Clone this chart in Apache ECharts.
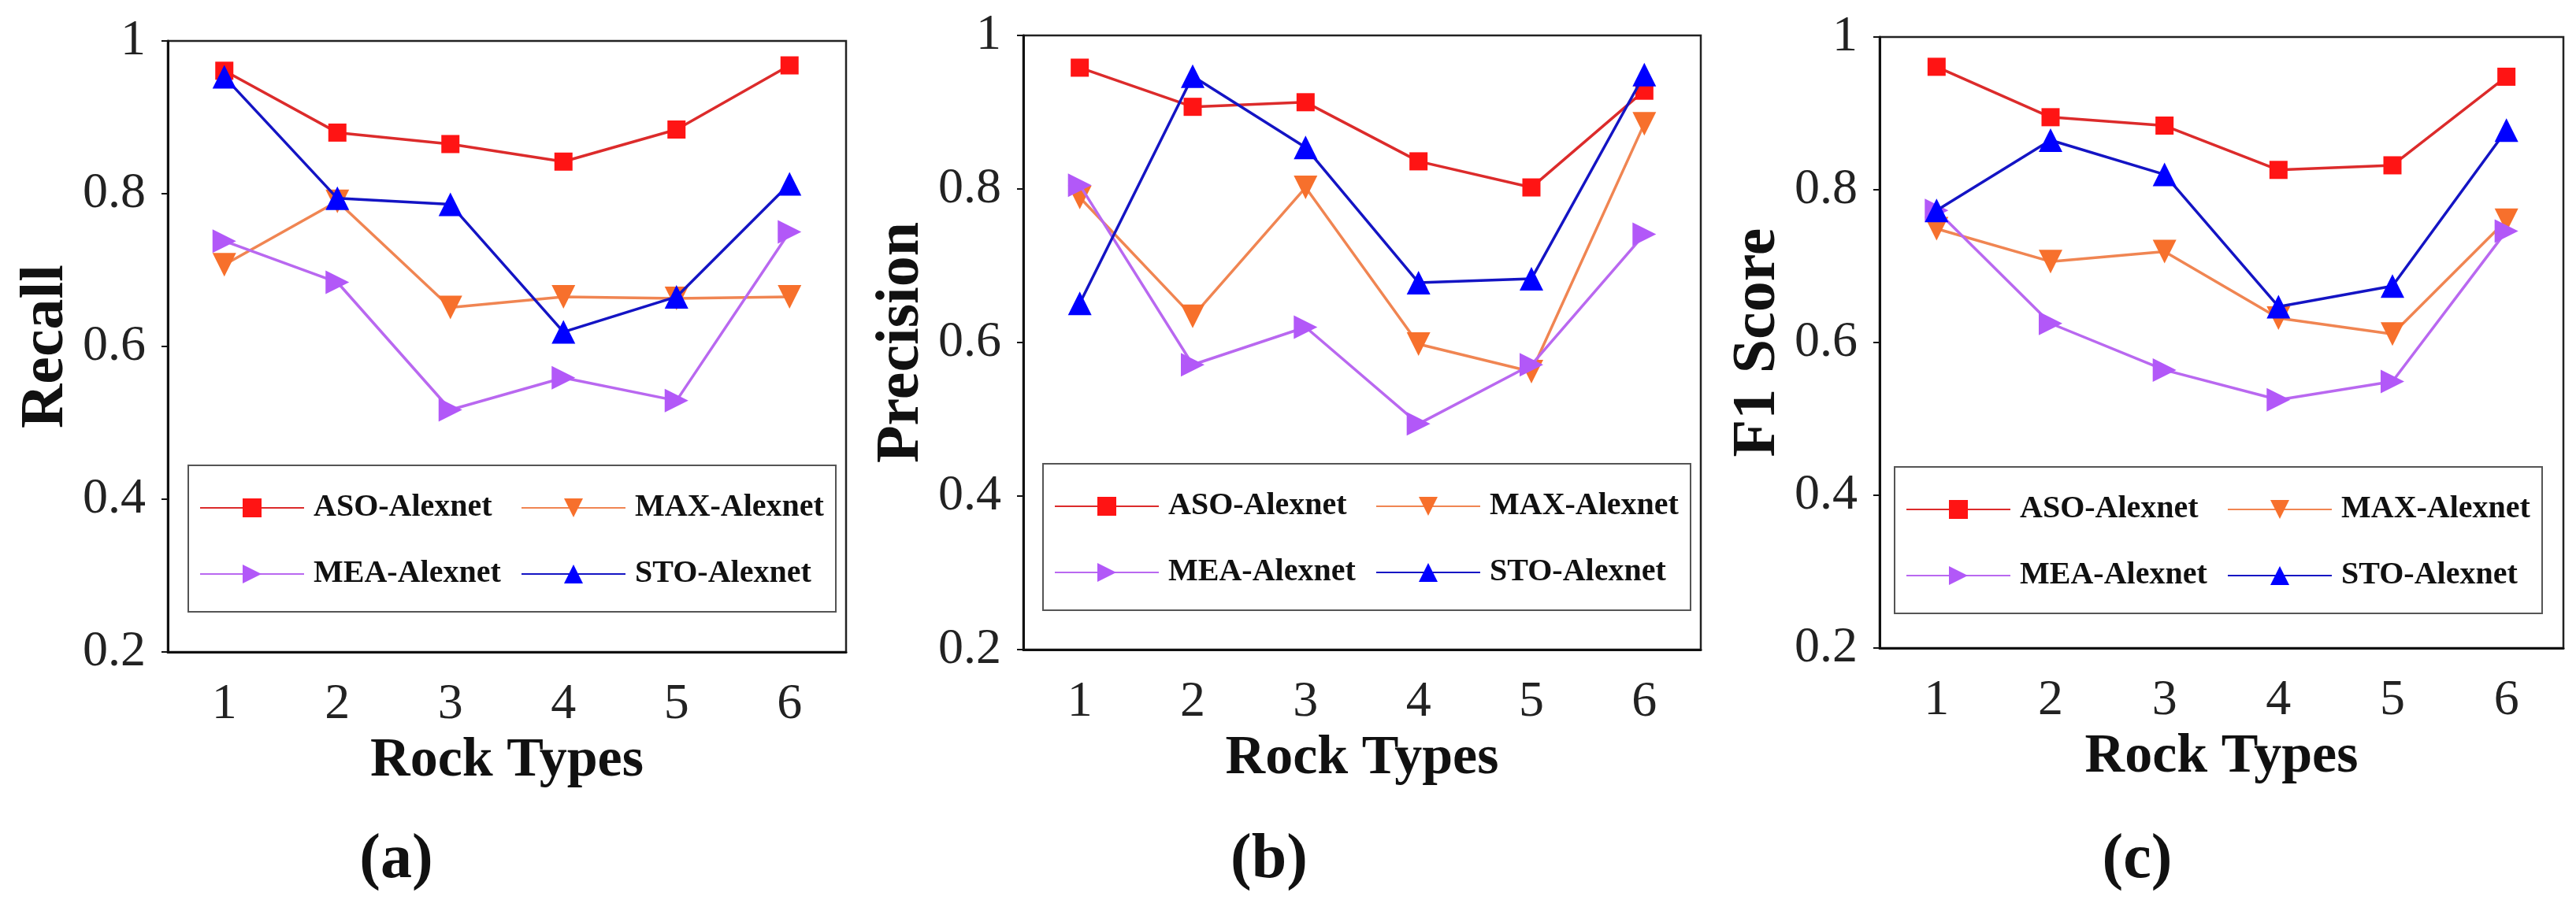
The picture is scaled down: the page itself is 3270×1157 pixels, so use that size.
<!DOCTYPE html>
<html>
<head>
<meta charset="utf-8">
<style>
  html, body { margin: 0; padding: 0; background: #fff; }
  #main { width: 3270px; height: 1157px; }
</style>
<script src="https://cdn.jsdelivr.net/npm/echarts@6/dist/echarts.min.js"></script>
</head>
<body>
<div id="main"></div>
<script>
// categories
const rockTypes = ['1', '2', '3', '4', '5', '6'];
const seriesNames = ['ASO-Alexnet', 'MAX-Alexnet', 'MEA-Alexnet', 'STO-Alexnet'];
const panelTitles = ['a', 'b', 'c'];
const yNames = ['Recall', 'Precision', 'F1 Score'];

// (a) Recall
const recallAso = [0.961, 0.880, 0.865, 0.842, 0.884, 0.968];
const recallMax = [0.707, 0.790, 0.651, 0.665, 0.663, 0.665];
const recallMea = [0.738, 0.684, 0.517, 0.559, 0.529, 0.750];
const recallSto = [0.953, 0.794, 0.786, 0.619, 0.665, 0.813];

// (b) Precision
const precisionAso = [0.958, 0.907, 0.913, 0.836, 0.802, 0.928];
const precisionMax = [0.789, 0.634, 0.802, 0.598, 0.562, 0.885];
const precisionMea = [0.805, 0.571, 0.620, 0.494, 0.571, 0.741];
const precisionSto = [0.651, 0.947, 0.854, 0.678, 0.683, 0.949];

// (c) F1 Score
const f1Aso = [0.961, 0.895, 0.884, 0.826, 0.832, 0.948];
const f1Max = [0.749, 0.706, 0.719, 0.632, 0.611, 0.760];
const f1Mea = [0.773, 0.625, 0.564, 0.525, 0.549, 0.746];
const f1Sto = [0.773, 0.865, 0.820, 0.647, 0.674, 0.878];

const panelData = [
  [recallAso, recallMax, recallMea, recallSto],
  [precisionAso, precisionMax, precisionMea, precisionSto],
  [f1Aso, f1Max, f1Mea, f1Sto]
];

const serif = '"Liberation Serif", "Times New Roman", serif';

// layout of the three panels
const grids = [
  { left: 213, top: 52, width: 861, height: 776 },
  { left: 1299, top: 45, width: 860, height: 780 },
  { left: 2386, top: 47, width: 868, height: 776 }
];
const legendPos = [
  { left: 239, top: 591 },
  { left: 1324, top: 589 },
  { left: 2405, top: 593 }
];
const titleX = [498, 1606, 2708];

// line / marker look per series
const styles = [
  { line: '#dc2b2b', fill: '#ff1414', symbol: 'rect', size: 23, rotate: 0 },
  { line: '#f08552', fill: '#f7702c', symbol: 'triangle', size: 30, rotate: 180 },
  { line: '#b968f0', fill: '#b258f8', symbol: 'triangle', size: 30, rotate: -90 },
  { line: '#1414c4', fill: '#0000ff', symbol: 'triangle', size: 30, rotate: 0 }
];

const option = {
  animation: false,
  backgroundColor: '#fff',
  title: [],
  grid: [],
  xAxis: [],
  yAxis: [],
  legend: [],
  series: []
};

for (let p = 0; p < 3; p++) {
  option.grid.push(Object.assign({
    show: true,
    borderColor: '#222',
    borderWidth: 2.5,
    backgroundColor: 'transparent'
  }, grids[p]));

  option.title.push({
    text: '{p|(}{b|' + panelTitles[p] + '}{p|)}',
    left: titleX[p],
    top: 1048,
    textAlign: 'center',
    textStyle: {
      rich: {
        p: { fontFamily: serif, fontSize: 80, color: '#111' },
        b: { fontFamily: serif, fontSize: 80, fontWeight: 'bold', color: '#111' }
      }
    }
  });

  option.xAxis.push({
    type: 'category',
    gridIndex: p,
    data: rockTypes,
    boundaryGap: true,
    name: 'Rock Types',
    nameLocation: 'middle',
    nameGap: 92,
    nameTextStyle: { fontFamily: serif, fontSize: 70, fontWeight: 'bold', color: '#111' },
    axisLine: { lineStyle: { color: '#111', width: 3 } },
    axisTick: { alignWithLabel: true, length: 11, lineStyle: { color: '#111', width: 2 } },
    axisLabel: { fontFamily: serif, fontSize: 64, color: '#222', margin: 35 },
    splitLine: { show: false }
  });

  option.yAxis.push({
    type: 'value',
    gridIndex: p,
    min: 0.2,
    max: 1,
    interval: 0.2,
    name: yNames[p],
    nameLocation: 'middle',
    nameGap: 115,
    nameTextStyle: { fontFamily: serif, fontSize: 78, fontWeight: 'bold', color: '#111' },
    axisLine: { show: true, lineStyle: { color: '#111', width: 3 } },
    axisTick: { show: true, length: 8, lineStyle: { color: '#111', width: 2 } },
    axisLabel: {
      fontFamily: serif, fontSize: 64, color: '#222', margin: 28,
      formatter: function (v) { return Math.abs(v - 1) < 1e-9 ? '1' : v.toFixed(1); }
    },
    splitLine: { show: false }
  });

  option.legend.push({
    left: legendPos[p].left,
    top: legendPos[p].top,
    width: 800,
    orient: 'horizontal',
    data: seriesNames.map(function (n) { return { name: n }; }),
    itemWidth: 132,
    itemHeight: 30,
    itemGap: 20,
    padding: [22, 12, 16, 14],
    borderColor: '#555',
    borderWidth: 2,
    backgroundColor: '#fff',
    textStyle: {
      fontFamily: serif, fontSize: 40, fontWeight: 'bold', color: '#111',
      width: 243, lineHeight: 64, padding: [0, 0, 0, 7]
    },
    selectedMode: false
  });

  for (let s = 0; s < 4; s++) {
    const st = styles[s];
    option.series.push({
      name: seriesNames[s],
      type: 'line',
      xAxisIndex: p,
      yAxisIndex: p,
      data: panelData[p][s],
      symbol: st.symbol,
      symbolSize: st.size,
      symbolRotate: st.rotate,
      showAllSymbol: true,
      lineStyle: { color: st.line, width: 3.5 },
      itemStyle: { color: st.fill, borderWidth: 0 },
      z: 3 + s
    });
  }
}

const chart = echarts.init(document.getElementById('main'), null, { renderer: 'canvas' });
chart.setOption(option);
window.addEventListener('resize', function () { chart.resize(); });
</script>
</body>
</html>
